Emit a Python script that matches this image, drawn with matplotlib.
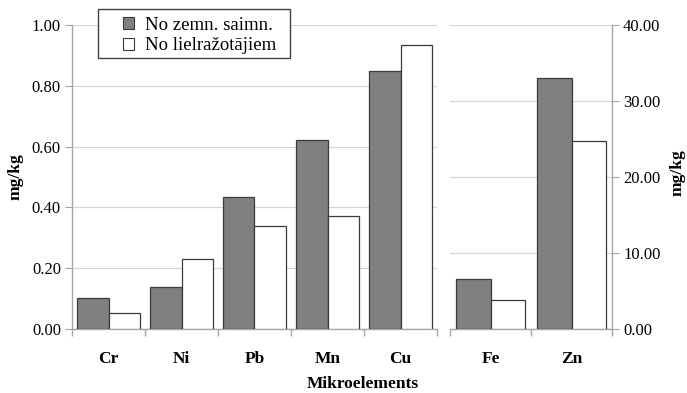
import matplotlib
matplotlib.use("Agg")
import matplotlib.pyplot as plt
from matplotlib.patches import Patch, Rectangle
from matplotlib.ticker import FormatStrFormatter, FixedLocator
import numpy as np

plt.rcParams["font.family"] = ["Liberation Serif", "DejaVu Serif"]

# Trace elements on the primary axis (mg/kg)
left_categories = ["Cr", "Ni", "Pb", "Mn", "Cu"]
left_farm = [0.102, 0.138, 0.434, 0.622, 0.849]
left_large = [0.053, 0.230, 0.339, 0.372, 0.934]

# Trace elements on the secondary axis (mg/kg)
right_categories = ["Fe", "Zn"]
right_farm = [6.6, 33.0]
right_large = [3.8, 24.7]

series_names = ["No zemn. saimn.", "No lielražotājiem"]
x_title = "Mikroelements"
y_title = "mg/kg"

gray = "#808080"
axis_gray = "#a6a6a6"
grid_gray = "#d6d6d6"

W, H = 687, 393
fig = plt.figure(figsize=(W / 100, H / 100), dpi=100)

def frac_box(x0, x1, y_top, y_bot):
    return [x0 / W, 1 - y_bot / H, (x1 - x0) / W, (y_bot - y_top) / H]

ax1 = fig.add_axes(frac_box(72, 437, 25, 329))
ax2 = fig.add_axes(frac_box(450, 612, 25, 329))

bar_w = 0.43
tick_fs = 12
cat_fs = 12.5

def draw_panel(ax, cats, a, b):
    x = np.arange(len(cats))
    ax.bar(x - bar_w / 2, a, bar_w, color=gray, edgecolor="#3a3a3a", linewidth=0.9, zorder=3)
    ax.bar(x + bar_w / 2, b, bar_w, color="white", edgecolor="#3a3a3a", linewidth=0.9, zorder=3)
    ax.set_xlim(-0.5, len(cats) - 0.5)
    ax.set_xticks(x)
    ax.set_xticklabels(cats, fontweight="bold", fontsize=cat_fs)
    ax.tick_params(axis="x", which="major", length=0, pad=16)
    ax.xaxis.set_minor_locator(FixedLocator(np.arange(-0.5, len(cats), 1.0)))
    ax.tick_params(axis="x", which="minor", length=5, color=axis_gray, width=1)
    ax.grid(axis="y", color=grid_gray, linewidth=0.9, zorder=0)
    ax.set_axisbelow(True)
    for s in ax.spines.values():
        s.set_color(axis_gray)
        s.set_linewidth(1)
    ax.spines["top"].set_visible(False)

draw_panel(ax1, left_categories, left_farm, left_large)
ax1.spines["right"].set_visible(False)
ax1.set_ylim(0, 1.0)
ax1.set_yticks(np.arange(0, 1.01, 0.2))
ax1.yaxis.set_major_formatter(FormatStrFormatter("%.2f"))
ax1.tick_params(axis="y", length=5, color=axis_gray, labelsize=tick_fs, pad=3)

draw_panel(ax2, right_categories, right_farm, right_large)
ax2.spines["left"].set_visible(False)
ax2.set_ylim(0, 40)
ax2.set_yticks(np.arange(0, 40.1, 10))
ax2.yaxis.set_major_formatter(FormatStrFormatter("%.2f"))
ax2.yaxis.tick_right()
ax2.tick_params(axis="y", length=5, color=axis_gray, labelsize=tick_fs, pad=3)

fig.text(16 / W, 1 - 177 / H, y_title, rotation=90, ha="center", va="center",
         fontsize=12.5, fontweight="bold")
fig.text(678 / W, 1 - 173 / H, y_title, rotation=90, ha="center", va="center",
         fontsize=12.5, fontweight="bold")
fig.text(363 / W, 1 - 384 / H, x_title, ha="center", va="center",
         fontsize=12.5, fontweight="bold")

# Legend box with roomy padding, drawn as its own frame
fig.patches.append(Rectangle((98 / W, 1 - 58 / H), 192 / W, 49 / H,
                             transform=fig.transFigure, facecolor="white",
                             edgecolor="#404040", linewidth=1, zorder=5))
handles = [Patch(facecolor=gray, edgecolor="#3a3a3a", linewidth=0.8),
           Patch(facecolor="white", edgecolor="#3a3a3a", linewidth=0.8)]
leg = fig.legend(handles, series_names, loc="upper left",
                 bbox_to_anchor=(117 / W, 1 - 11 / H), fontsize=13.5,
                 handlelength=0.6, handleheight=0.6, handletextpad=0.6,
                 borderpad=0.3, borderaxespad=0, labelspacing=0.2,
                 frameon=False)
leg.set_zorder(6)

fig.savefig("out.png", dpi=100)
